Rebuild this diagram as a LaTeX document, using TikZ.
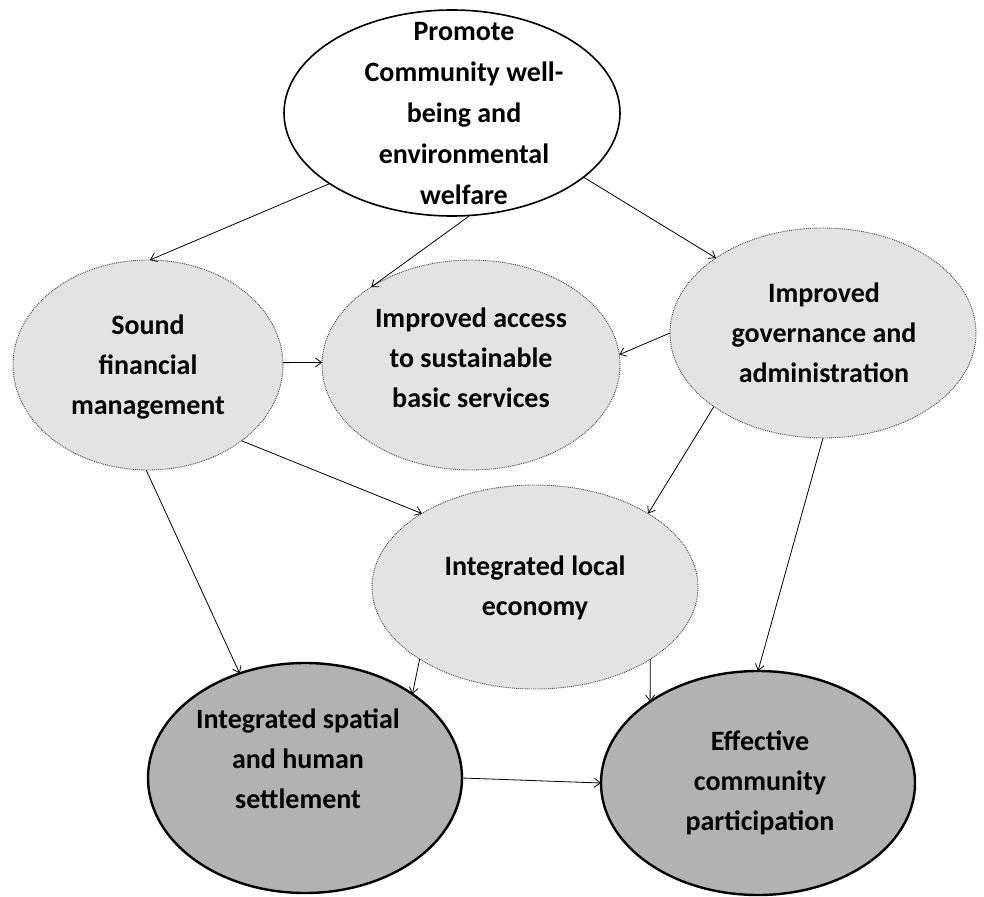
\documentclass[tikz,border=0pt]{standalone}
\usepackage{fontspec}
\setmainfont{Carlito}
\usetikzlibrary{arrows.meta,shapes.geometric}
\begin{document}
\begin{tikzpicture}[x=1pt,y=-1pt,
  ell/.style={ellipse, inner sep=0pt, outer sep=0pt},
  topell/.style={ell, draw=black, line width=1.6pt, fill=white},
  midell/.style={ell, draw=black!75, densely dotted, line width=0.9pt, fill=black!11},
  botell/.style={ell, draw=black, line width=2.4pt, fill=black!30},
  lbl/.style={font=\fontsize{28}{40}\selectfont\bfseries, align=center, inner sep=0pt, text=black},
  conn/.style={draw=black, line width=0.8pt, -{Straight Barb[length=6pt,width=9pt,line width=0.8pt]}}
]
\useasboundingbox (0,0) rectangle (984,896);
% ellipses
\node[topell, minimum width=336pt, minimum height=206pt] (T) at (452,113) {};
\node[midell, minimum width=270pt, minimum height=210pt] (S) at (148,365) {};
\node[midell, minimum width=298pt, minimum height=210pt] (A) at (471,365) {};
\node[midell, minimum width=306pt, minimum height=210pt] (G) at (823,333) {};
\node[midell, minimum width=326pt, minimum height=204pt] (L) at (535,587) {};
\node[botell, minimum width=314pt, minimum height=230pt] (P) at (305,778) {};
\node[botell, minimum width=314pt, minimum height=224pt] (E) at (758,783) {};
% texts
\node[lbl, font=\fontsize{28}{41}\selectfont\bfseries] (Tt) at (464,114) {Promote\\Community well-\\being and\\environmental\\welfare};
\node[lbl] (St) at (148,367) {Sound\\financial\\management};
\node[lbl] (At) at (471,358) {Improved access\\to sustainable\\basic services};
\node[lbl] (Gt) at (824,333) {Improved\\governance and\\administration};
\node[lbl] (Lt) at (535,588) {Integrated local\\economy};
\node[lbl] (Pt) at (298,759) {Integrated spatial\\and human\\settlement};
\node[lbl] (Et) at (760,783) {Effective\\community\\participation};
% connectors
\draw[conn] (T.210.5) -- (S.89);
\draw[conn] (T.280) -- (A.142.3);
\draw[conn] (T.334.6) -- (G.145.4);
\draw[conn] (S.1) -- (A.179);
\draw[conn] (G.180) -- (A.4);
\draw[conn] (S.321.6) -- (L.147.9);
\draw[conn] (G.214) -- (L.33.1);
\draw[conn] (S.269) -- (P.122.5);
\draw[conn] (G.270) -- (E.90);
\draw[conn] (L.212.7) -- (P.38.3);
\draw[conn] (L.328) -- (E.143.6);
\draw[conn] (P.0) -- (E.180.7);
\end{tikzpicture}
\end{document}
